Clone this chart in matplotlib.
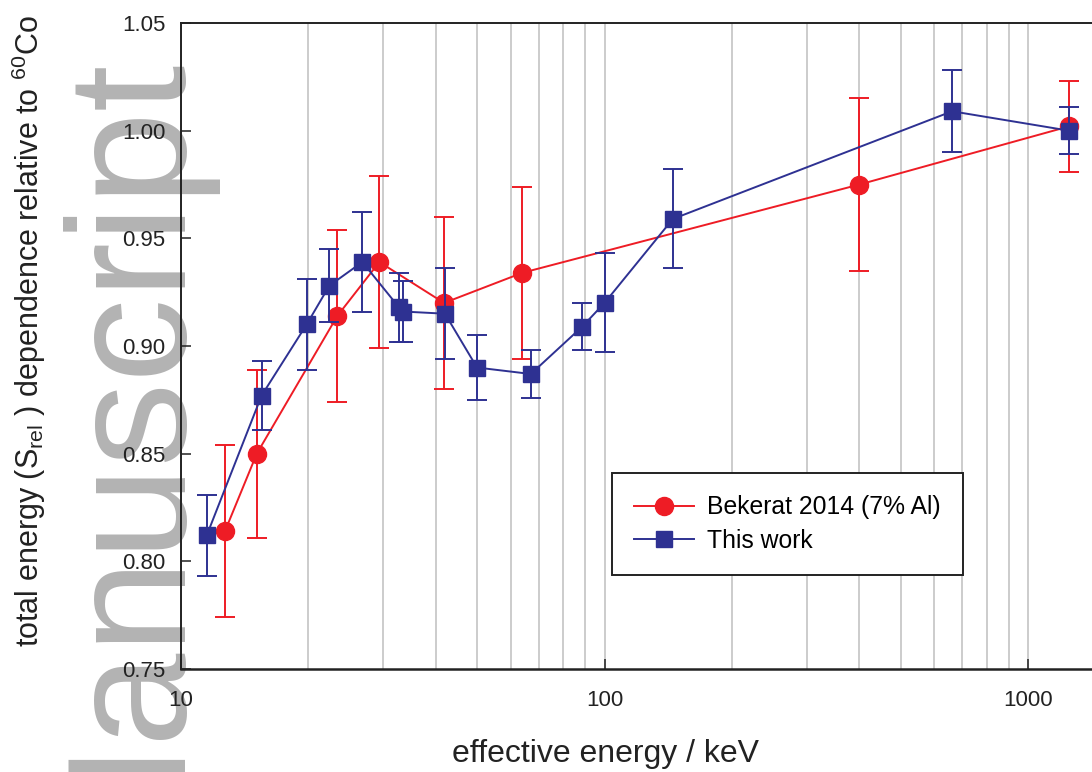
import numpy as np
import matplotlib
matplotlib.use('Agg')
import matplotlib.pyplot as plt
from matplotlib.lines import Line2D
from matplotlib.ticker import LogLocator, NullFormatter, FixedLocator, FixedFormatter

plt.rcParams['font.family'] = ['Liberation Sans', 'DejaVu Sans']
plt.rcParams['mathtext.fontset'] = 'custom'
plt.rcParams['mathtext.rm'] = 'Liberation Sans'
plt.rcParams['mathtext.it'] = 'Liberation Sans'

#####################
# DATA
#####################
# Bekerat 2014 (7% Al)
bek_energy = [12.7, 15.1, 23.4, 29.4, 41.8, 64.0, 400, 1250]
bek_srel = [0.814, 0.850, 0.914, 0.939, 0.920, 0.934, 0.975, 1.002]
bek_err = [0.040, 0.039, 0.040, 0.040, 0.040, 0.040, 0.040, 0.021]

# This work
tw_energy = [11.5, 15.5, 19.8, 22.4, 26.8, 32.7, 33.5, 42.0, 50, 67, 88.6, 100, 145, 662, 1250]
tw_srel = [0.812, 0.877, 0.910, 0.928, 0.939, 0.918, 0.916, 0.915, 0.890, 0.887,
           0.909, 0.920, 0.959, 1.009, 1.000]
tw_err = [0.019, 0.016, 0.021, 0.017, 0.023, 0.016, 0.014, 0.021, 0.015, 0.011,
          0.011, 0.023, 0.023, 0.019, 0.011]

series_labels = ['Bekerat 2014 (7% Al)', 'This work']
x_ticks = [10, 100, 1000]
x_ticklabels = ['10', '100', '1000']
y_ticks = [0.75, 0.80, 0.85, 0.90, 0.95, 1.00, 1.05]
y_ticklabels = ['0.75', '0.80', '0.85', '0.90', '0.95', '1.00', '1.05']

red = '#ee1c25'
blue = '#2e3192'
ink = '#222222'

W, H = 1092, 772
fig = plt.figure(figsize=(W / 100, H / 100), dpi=100)

# watermark, behind everything (anchored at string end, on the baseline)
fig.text(172 / W, 1 - 50 / H, 'Manuscript', rotation=90, rotation_mode='anchor',
         fontsize=121, color='#b3b3b3', ha='right', va='baseline', zorder=-1)

# axes: left spine at 181 px, top 23 px, bottom 669 px; log 10 -> 1500 (right side off-canvas)
ax_left, ax_top, ax_bot = 181, 23, 669
xmin, xmax = 10, 1500
decade = 423.5
ax_w = decade * np.log10(xmax / xmin)
ax_h = ax_bot - ax_top
ax = fig.add_axes([ax_left / W, 1 - ax_bot / H, ax_w / W, ax_h / H])
ax.set_facecolor('none')

ax.errorbar(bek_energy, bek_srel, yerr=bek_err, color=red, marker='o', ms=13,
            lw=1.4, elinewidth=1.4, capsize=7, capthick=1.4, zorder=3)
ax.errorbar(tw_energy, tw_srel, yerr=tw_err, color=blue, marker='s', ms=11.5,
            lw=1.4, elinewidth=1.4, capsize=7, capthick=1.4, zorder=4)

ax.set_xscale('log')
ax.set_xlim(xmin, xmax)
ax.set_ylim(0.75, 1.05)
ax.set_yticks(y_ticks)
ax.set_yticklabels(y_ticklabels)
ax.xaxis.set_major_locator(FixedLocator(x_ticks))
ax.xaxis.set_major_formatter(FixedFormatter(x_ticklabels))
ax.xaxis.set_minor_locator(LogLocator(base=10, subs=np.arange(2, 10)))
ax.xaxis.set_minor_formatter(NullFormatter())

ax.grid(True, which='both', axis='x', color='#c8c8c8', lw=1.3, zorder=0)
ax.set_axisbelow(True)

ax.tick_params(axis='both', which='major', direction='in', length=7, width=1.1,
               labelsize=16, colors=ink)
ax.tick_params(axis='y', pad=11)
ax.tick_params(axis='x', pad=15)
ax.tick_params(axis='x', which='minor', length=0)
ax.tick_params(top=False, right=False)
for s in ['left', 'top', 'bottom']:
    ax.spines[s].set_linewidth(1.4)
    ax.spines[s].set_color(ink)
ax.spines['bottom'].set_linewidth(1.8)
ax.spines['right'].set_visible(False)

ax.set_xlabel('effective energy / keV', fontsize=23, color=ink)
ax.xaxis.set_label_coords((605 - ax_left) / ax_w, -(739 - ax_bot) / ax_h)
ax.set_ylabel(r'total energy (S$_{\rm rel}$ ) dependence relative to $^{60}$Co',
              fontsize=22, color=ink)
ax.yaxis.set_label_coords(-(ax_left - 48) / ax_w, (ax_bot - 331) / ax_h)

handles = [Line2D([], [], color=red, marker='o', ms=13, lw=1.4),
           Line2D([], [], color=blue, marker='s', ms=11.5, lw=1.4)]
leg = ax.legend(handles, series_labels, loc='upper left',
                bbox_to_anchor=((612 - ax_left) / ax_w, (ax_bot - 473) / ax_h),
                borderaxespad=0, fontsize=17.8, numpoints=1, fancybox=False,
                handlelength=2.4, handletextpad=0.55, labelspacing=0.4,
                borderpad=0.9, framealpha=1)
leg.get_frame().set_edgecolor(ink)
leg.get_frame().set_linewidth(1.4)

fig.savefig('out.png', dpi=100)
